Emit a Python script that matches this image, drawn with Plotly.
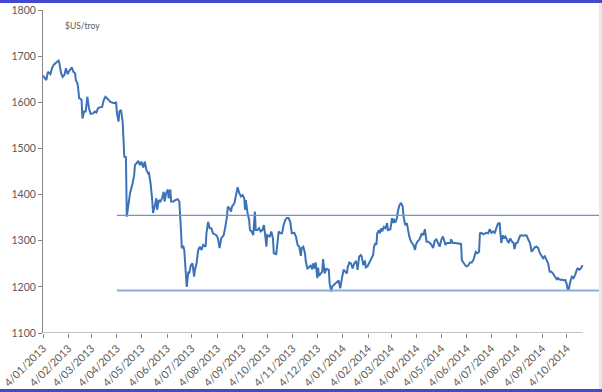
import plotly.graph_objects as go

# ---------------- data ----------------
dates = [
    "2013-01-04", "2013-01-08", "2013-01-10", "2013-01-13", "2013-01-15", "2013-01-17", "2013-01-20",
    "2013-01-23", "2013-01-24", "2013-01-26", "2013-01-28", "2013-01-30", "2013-02-01", "2013-02-03",
    "2013-02-05", "2013-02-08", "2013-02-10", "2013-02-12", "2013-02-13", "2013-02-15", "2013-02-16",
    "2013-02-17", "2013-02-19", "2013-02-20", "2013-02-21", "2013-02-23", "2013-02-25", "2013-02-27",
    "2013-03-01", "2013-03-03", "2013-03-06", "2013-03-08", "2013-03-10", "2013-03-12", "2013-03-14",
    "2013-03-17", "2013-03-19", "2013-03-21", "2013-03-23", "2013-03-25", "2013-03-27", "2013-03-30",
    "2013-04-02", "2013-04-03", "2013-04-04", "2013-04-06", "2013-04-07", "2013-04-09", "2013-04-10",
    "2013-04-11", "2013-04-13", "2013-04-15", "2013-04-16", "2013-04-18",
    "2013-04-20", "2013-04-23", "2013-04-25", "2013-04-26", "2013-04-28", "2013-04-30", "2013-05-02",
    "2013-05-04", "2013-05-06", "2013-05-08", "2013-05-10", "2013-05-12", "2013-05-13", "2013-05-15",
    "2013-05-17", "2013-05-18", "2013-05-20", "2013-05-22", "2013-05-23", "2013-05-25", "2013-05-27",
    "2013-05-29", "2013-05-31", "2013-06-01", "2013-06-03", "2013-06-05", "2013-06-06", "2013-06-08",
    "2013-06-09", "2013-06-12", "2013-06-14", "2013-06-17", "2013-06-19", "2013-06-20", "2013-06-21",
    "2013-06-22", "2013-06-24", "2013-06-25", "2013-06-26", "2013-06-28", "2013-06-30", "2013-07-01",
    "2013-07-03", "2013-07-05", "2013-07-07", "2013-07-08", "2013-07-10", "2013-07-12", "2013-07-14",
    "2013-07-16", "2013-07-18", "2013-07-21", "2013-07-22", "2013-07-24", "2013-07-26", "2013-07-28",
    "2013-07-30", "2013-08-03", "2013-08-05", "2013-08-07", "2013-08-09", "2013-08-12", "2013-08-14",
    "2013-08-16", "2013-08-17", "2013-08-19", "2013-08-21", "2013-08-22", "2013-08-25", "2013-08-27",
    "2013-08-29", "2013-08-31", "2013-09-02", "2013-09-04", "2013-09-06", "2013-09-07", "2013-09-08",
    "2013-09-10", "2013-09-12", "2013-09-13", "2013-09-15", "2013-09-17", "2013-09-19", "2013-09-20",
    "2013-09-22", "2013-09-24", "2013-09-26", "2013-09-28", "2013-09-30", "2013-10-02", "2013-10-03",
    "2013-10-04", "2013-10-07", "2013-10-09", "2013-10-11", "2013-10-12", "2013-10-15", "2013-10-16",
    "2013-10-18", "2013-10-20", "2013-10-22", "2013-10-24", "2013-10-26", "2013-10-28", "2013-10-30",
    "2013-11-01", "2013-11-03", "2013-11-06", "2013-11-08", "2013-11-10", "2013-11-12", "2013-11-14",
    "2013-11-15", "2013-11-17", "2013-11-19", "2013-11-20", "2013-11-22", "2013-11-24", "2013-11-26",
    "2013-11-28", "2013-11-29", "2013-12-01", "2013-12-02", "2013-12-04", "2013-12-05", "2013-12-06",
    "2013-12-08", "2013-12-10", "2013-12-11", "2013-12-13", "2013-12-15", "2013-12-16", "2013-12-18",
    "2013-12-19", "2013-12-21", "2013-12-22", "2013-12-24", "2013-12-26", "2013-12-28", "2013-12-30",
    "2013-12-31", "2014-01-01", "2014-01-03", "2014-01-05", "2014-01-07", "2014-01-09", "2014-01-10",
    "2014-01-12", "2014-01-14", "2014-01-16", "2014-01-18", "2014-01-20", "2014-01-21", "2014-01-22",
    "2014-01-24", "2014-01-26", "2014-01-27", "2014-01-29", "2014-01-31", "2014-02-01", "2014-02-03",
    "2014-02-05", "2014-02-07", "2014-02-09", "2014-02-10", "2014-02-11", "2014-02-13", "2014-02-14",
    "2014-02-15", "2014-02-17", "2014-02-18", "2014-02-20", "2014-02-21", "2014-02-23", "2014-02-25",
    "2014-02-27", "2014-02-28", "2014-03-03", "2014-03-05", "2014-03-06", "2014-03-07", "2014-03-09",
    "2014-03-11", "2014-03-12", "2014-03-14", "2014-03-16", "2014-03-18", "2014-03-19", "2014-03-21",
    "2014-03-23", "2014-03-24", "2014-03-26", "2014-03-28", "2014-03-29", "2014-03-31", "2014-04-02",
    "2014-04-03", "2014-04-05", "2014-04-07", "2014-04-09", "2014-04-10", "2014-04-12", "2014-04-14",
    "2014-04-16", "2014-04-18", "2014-04-20", "2014-04-22", "2014-04-24", "2014-04-26", "2014-04-28",
    "2014-04-30", "2014-05-02", "2014-05-04", "2014-05-06", "2014-05-09", "2014-05-11", "2014-05-13",
    "2014-05-15", "2014-05-16", "2014-05-18", "2014-05-21", "2014-05-25", "2014-05-28", "2014-05-29",
    "2014-05-31", "2014-06-02", "2014-06-04", "2014-06-06", "2014-06-08", "2014-06-10", "2014-06-12",
    "2014-06-14", "2014-06-15", "2014-06-17", "2014-06-19", "2014-06-20", "2014-06-22", "2014-06-24",
    "2014-06-26", "2014-06-28", "2014-06-30", "2014-07-02", "2014-07-04", "2014-07-06", "2014-07-08",
    "2014-07-10", "2014-07-12", "2014-07-14", "2014-07-16", "2014-07-18", "2014-07-19", "2014-07-21",
    "2014-07-23", "2014-07-25", "2014-07-27", "2014-07-29", "2014-07-31", "2014-08-01", "2014-08-03",
    "2014-08-05", "2014-08-06", "2014-08-08", "2014-08-10", "2014-08-12", "2014-08-14", "2014-08-16",
    "2014-08-18", "2014-08-20", "2014-08-22", "2014-08-24", "2014-08-26", "2014-08-28", "2014-08-30",
    "2014-09-01", "2014-09-03", "2014-09-05", "2014-09-07", "2014-09-09", "2014-09-11", "2014-09-13",
    "2014-09-15", "2014-09-17", "2014-09-19", "2014-09-22", "2014-09-23", "2014-09-26", "2014-09-28",
    "2014-09-30", "2014-10-02", "2014-10-04", "2014-10-05", "2014-10-06", "2014-10-08", "2014-10-10",
    "2014-10-12", "2014-10-14", "2014-10-16", "2014-10-17", "2014-10-19", "2014-10-21", "2014-10-23",
]

gold_usd = [
    1658, 1648, 1666, 1661, 1674, 1681, 1686,
    1690, 1684, 1663, 1655, 1659, 1674, 1661,
    1668, 1676, 1666, 1663, 1648, 1641, 1627,
    1609, 1607, 1605, 1565, 1580, 1580, 1612,
    1587, 1575, 1576, 1580, 1578, 1587, 1589,
    1590, 1605, 1612, 1609, 1605, 1601, 1599,
    1598, 1601, 1576, 1558, 1580, 1583, 1572,
    1558, 1482, 1481, 1352, 1374,
    1403, 1424, 1442, 1464, 1468, 1473, 1464,
    1471, 1459, 1471, 1453, 1446, 1447, 1424,
    1388, 1360, 1374, 1392, 1367, 1388, 1385,
    1392, 1406, 1385, 1403, 1411, 1392, 1411,
    1385, 1385, 1388, 1390, 1385, 1360, 1323,
    1284, 1287, 1280, 1244, 1200, 1233, 1229,
    1247, 1251, 1222, 1237, 1251, 1280, 1287,
    1280, 1291, 1287, 1316, 1341, 1327, 1327,
    1316, 1312, 1305, 1284, 1305, 1312, 1330,
    1352, 1374, 1370, 1363, 1374, 1381, 1403,
    1416, 1403, 1396, 1399, 1392, 1367, 1388,
    1360, 1345, 1323, 1320, 1312, 1363, 1323,
    1323, 1327, 1320, 1323, 1334, 1305, 1287,
    1312, 1309, 1320, 1305, 1273, 1271, 1287,
    1320, 1316, 1316, 1334, 1345, 1349, 1349,
    1341, 1316, 1317, 1309, 1291, 1287, 1267,
    1284, 1287, 1273, 1255, 1240, 1242, 1247,
    1238, 1251, 1240, 1253, 1219, 1242, 1224,
    1229, 1233, 1260, 1229, 1240, 1238, 1237,
    1208, 1190, 1200, 1204, 1208, 1211, 1214,
    1204, 1197, 1219, 1237, 1233, 1229, 1242,
    1253, 1251, 1240, 1251, 1255, 1251, 1237,
    1266, 1269, 1266, 1247, 1257, 1242, 1244,
    1251, 1257, 1266, 1269, 1287, 1295, 1291,
    1316, 1323, 1316, 1327, 1320, 1330, 1327,
    1338, 1323, 1325, 1349, 1338, 1347, 1339,
    1349, 1363, 1377, 1382, 1374, 1352, 1334,
    1338, 1327, 1309, 1298, 1295, 1291, 1280,
    1291, 1298, 1302, 1309, 1316, 1312, 1325,
    1298, 1298, 1295, 1291, 1284, 1300, 1303,
    1295, 1287, 1302, 1309, 1291, 1295, 1295,
    1295, 1303, 1295, 1295, 1293, 1293, 1258,
    1251, 1247, 1244, 1247, 1253, 1253, 1258,
    1273, 1276, 1273, 1276, 1316, 1317, 1314,
    1316, 1317, 1316, 1325, 1317, 1320, 1317,
    1327, 1337, 1338, 1295, 1312, 1305, 1309,
    1302, 1295, 1305, 1298, 1295, 1282, 1295,
    1296, 1302, 1311, 1312, 1311, 1312, 1311,
    1302, 1295, 1276, 1282, 1286, 1287, 1284,
    1273, 1266, 1262, 1266, 1260, 1251, 1233,
    1233, 1229, 1222, 1215, 1219, 1215, 1216,
    1214, 1215, 1204, 1193, 1193, 1211, 1222,
    1219, 1226, 1237, 1240, 1237, 1240, 1247,
]

upper_level = 1355
lower_level = 1192
level_start = "2013-04-04"
axis_end = "2014-10-23"
view_end = "2014-11-12"

tick_dates = [
    "2013-01-04", "2013-02-04", "2013-03-04", "2013-04-04", "2013-05-04", "2013-06-04",
    "2013-07-04", "2013-08-04", "2013-09-04", "2013-10-04", "2013-11-04", "2013-12-04",
    "2014-01-04", "2014-02-04", "2014-03-04", "2014-04-04", "2014-05-04", "2014-06-04",
    "2014-07-04", "2014-08-04", "2014-09-04", "2014-10-04",
]
tick_labels = [
    "4/01/2013", "4/02/2013", "4/03/2013", "4/04/2013", "4/05/2013", "4/06/2013",
    "4/07/2013", "4/08/2013", "4/09/2013", "4/10/2013", "4/11/2013", "4/12/2013",
    "4/01/2014", "4/02/2014", "4/03/2014", "4/04/2014", "4/05/2014", "4/06/2014",
    "4/07/2014", "4/08/2014", "4/09/2014", "4/10/2014",
]
y_ticks = [1100, 1200, 1300, 1400, 1500, 1600, 1700, 1800]
unit_label = "$US/troy"

# ---------------- layout constants ----------------
W, H = 602, 392
ML, MR, MT, MB = 43, 3, 10, 59
PW, PH = W - ML - MR, H - MT - MB


def px(x):
    return (x - ML) / PW


def py(y):
    return 1 - (y - MT) / PH


FONT = "Lato, 'Open Sans', sans-serif"
TXT = "#595959"
AX = "#868686"

fig = go.Figure()
fig.add_trace(go.Scatter(
    x=dates, y=gold_usd, mode="lines",
    line=dict(color="#3C72B8", width=2),
    hoverinfo="skip", showlegend=False,
))

shapes = [
    # reference levels
    dict(type="line", xref="x", yref="y", x0=level_start, x1=view_end,
         y0=upper_level, y1=upper_level, line=dict(color="#6A96D2", width=1.2)),
    dict(type="line", xref="x", yref="y", x0=level_start, x1=view_end,
         y0=lower_level, y1=lower_level, line=dict(color="#8DADDA", width=2)),
    # x axis line (stops at last data date)
    dict(type="line", xref="x", yref="y", x0=tick_dates[0], x1=axis_end,
         y0=y_ticks[0], y1=y_ticks[0], line=dict(color=AX, width=1)),
    # frame decorations
    dict(type="rect", xref="paper", yref="paper", x0=px(0), x1=px(W), y0=py(3), y1=py(0),
         fillcolor="#4348CF", line=dict(width=0)),
    dict(type="rect", xref="paper", yref="paper", x0=px(0), x1=px(W), y0=py(H), y1=py(389),
         fillcolor="#4348CF", line=dict(width=0)),
    dict(type="rect", xref="paper", yref="paper", x0=px(599), x1=px(W), y0=py(389), y1=py(3),
         fillcolor="#EBEBEB", line=dict(width=0)),
]

fig.update_layout(
    template="none",
    width=W, height=H,
    margin=dict(l=ML, r=MR, t=MT, b=MB, pad=0),
    paper_bgcolor="white", plot_bgcolor="white",
    font=dict(family=FONT, color=TXT, size=10),
    showlegend=False,
    hovermode=False,
    shapes=shapes,
    annotations=[dict(
        text=unit_label, xref="paper", yref="paper", x=px(63), y=py(26),
        xanchor="left", yanchor="middle", showarrow=False,
        font=dict(family=FONT, size=8.5, color=TXT),
    )],
    xaxis=dict(
        type="date", range=[tick_dates[0], view_end],
        tickmode="array", tickvals=tick_dates, ticktext=tick_labels,
        tickangle=-45, ticks="outside", ticklen=4, tickcolor=AX, tickwidth=1,
        tickfont=dict(family=FONT, size=10.8, color=TXT),
        showgrid=False, showline=False, zeroline=False, automargin=False,
    ),
    yaxis=dict(
        range=[y_ticks[0], y_ticks[-1]],
        tickmode="array", tickvals=y_ticks,
        ticks="outside", ticklen=4, tickcolor=AX, tickwidth=1,
        tickfont=dict(family=FONT, size=10.5, color=TXT),
        showgrid=False, showline=True, linecolor=AX, linewidth=1,
        zeroline=False, automargin=False,
    ),
)

fig.write_html(
    "out.html", include_plotlyjs=True,
    config={"displayModeBar": False, "staticPlot": True},
    post_script="document.body.style.margin='0';document.body.style.overflow='hidden';",
)
